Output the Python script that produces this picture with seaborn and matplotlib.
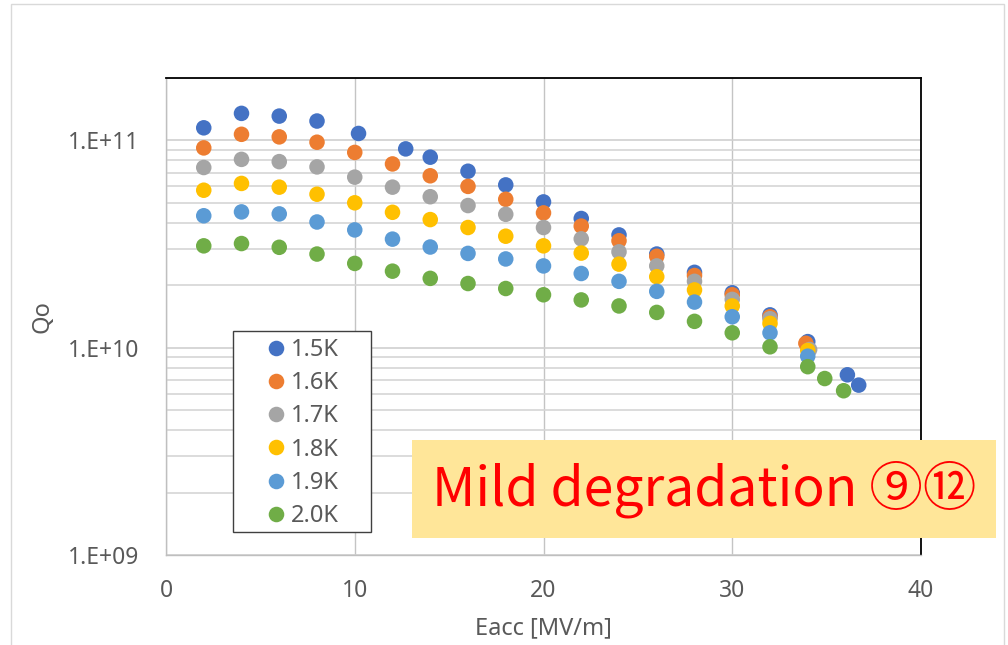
import numpy as np
import pandas as pd
import matplotlib
matplotlib.use("Agg")
import matplotlib.pyplot as plt
from matplotlib.patches import Rectangle
from matplotlib.lines import Line2D
from matplotlib.ticker import FixedLocator, LogLocator, NullFormatter
import seaborn as sns

# ---------------- data ----------------
series_labels = ["1.5K", "1.6K", "1.7K", "1.8K", "1.9K", "2.0K"]
colors = ["#4472C4", "#ED7D31", "#A5A5A5", "#FFC000", "#5B9BD5", "#70AD47"]

eacc_15 = [2, 4, 6, 8, 10.2, 12.7, 14, 16, 18, 20, 22, 24, 26, 28, 30, 32, 34, 36.1, 36.7]
q0_15 = [1.15e11, 1.35e11, 1.31e11, 1.24e11, 1.08e11, 9.1e10, 8.3e10, 7.1e10, 6.1e10, 5.05e10,
         4.2e10, 3.5e10, 2.83e10, 2.31e10, 1.84e10, 1.44e10, 1.07e10, 7.4e9, 6.6e9]

eacc_16 = [2, 4, 6, 8, 10, 12, 14, 16, 18, 20, 22, 24, 26, 28, 30, 32, 33.9]
q0_16 = [9.2e10, 1.07e11, 1.04e11, 9.8e10, 8.75e10, 7.7e10, 6.75e10, 6.0e10, 5.2e10, 4.47e10,
         3.86e10, 3.28e10, 2.76e10, 2.23e10, 1.80e10, 1.41e10, 1.05e10]

eacc_17 = [2, 4, 6, 8, 10, 12, 14, 16, 18, 20, 22, 24, 26, 28, 30, 32, 34.1]
q0_17 = [7.4e10, 8.1e10, 7.9e10, 7.45e10, 6.65e10, 5.95e10, 5.35e10, 4.85e10, 4.4e10, 3.8e10,
         3.35e10, 2.9e10, 2.48e10, 2.09e10, 1.71e10, 1.38e10, 9.8e9]

eacc_18 = [2, 4, 6, 8, 10, 12, 14, 16, 18, 20, 22, 24, 26, 28, 30, 32, 34]
q0_18 = [5.75e10, 6.2e10, 5.95e10, 5.5e10, 5.0e10, 4.5e10, 4.15e10, 3.8e10, 3.45e10, 3.1e10,
         2.86e10, 2.53e10, 2.2e10, 1.9e10, 1.59e10, 1.31e10, 9.7e9]

eacc_19 = [2, 4, 6, 8, 10, 12, 14, 16, 18, 20, 22, 24, 26, 28, 30, 32, 34]
q0_19 = [4.33e10, 4.52e10, 4.42e10, 4.04e10, 3.7e10, 3.34e10, 3.06e10, 2.85e10, 2.68e10, 2.48e10,
         2.28e10, 2.09e10, 1.87e10, 1.66e10, 1.41e10, 1.18e10, 9.1e9]

eacc_20 = [2, 4, 6, 8, 10, 12, 14, 16, 18, 20, 22, 24, 26, 28, 30, 32, 34, 34.9, 35.9]
q0_20 = [3.1e10, 3.18e10, 3.05e10, 2.83e10, 2.55e10, 2.34e10, 2.16e10, 2.04e10, 1.93e10, 1.8e10,
         1.7e10, 1.59e10, 1.48e10, 1.34e10, 1.18e10, 1.01e10, 8.1e9, 7.1e9, 6.2e9]

x_ticks = [0, 10, 20, 30, 40]
y_ticks = [1e9, 1e10, 1e11]
y_tick_labels = ["1.E+09", "1.E+10", "1.E+11"]
x_label = "Eacc [MV/m]"
y_label = "Qo"
note_text = "Mild degradation ⑨⑫"

# ---------------- build table ----------------
frames = []
for lab, xs, ys in zip(series_labels,
                       [eacc_15, eacc_16, eacc_17, eacc_18, eacc_19, eacc_20],
                       [q0_15, q0_16, q0_17, q0_18, q0_19, q0_20]):
    frames.append(pd.DataFrame({"Eacc": xs, "Q0": ys, "T": lab}))
df = pd.concat(frames, ignore_index=True)

# ---------------- style ----------------
sns.set_theme(style="white")
plt.rcParams["font.family"] = ["Noto Sans", "DejaVu Sans"]
text_color = "#595959"

W, H = 1008, 645
fig = plt.figure(figsize=(W / 100, H / 100), dpi=100)
ax = fig.add_axes([166 / W, 1 - 555 / H, (921 - 166) / W, (555 - 78) / H])

sns.scatterplot(data=df, x="Eacc", y="Q0", hue="T", palette=colors,
                hue_order=series_labels, s=125, linewidth=0, alpha=1,
                legend=False, ax=ax, zorder=3)

ax.set_yscale("log")
ax.set_xlim(0, 40)
ax.set_ylim(1e9, 2e11)

ax.xaxis.set_major_locator(FixedLocator(x_ticks))
ax.yaxis.set_major_locator(FixedLocator(y_ticks))
ax.set_yticklabels(y_tick_labels)
ax.yaxis.set_minor_locator(LogLocator(base=10, subs=np.arange(2, 10)))
ax.yaxis.set_minor_formatter(NullFormatter())

ax.grid(True, axis="x", which="major", color="#C4C4C4", linewidth=1.0)
ax.grid(True, axis="y", which="major", color="#D0D0D0", linewidth=1.2)
ax.grid(True, axis="y", which="minor", color="#D6D6D6", linewidth=1.2)
ax.set_axisbelow(True)

ax.tick_params(axis="both", which="both", length=0, labelsize=16.5, labelcolor=text_color)
ax.tick_params(axis="y", pad=19)
ax.tick_params(axis="x", pad=17)

for side in ["left", "bottom"]:
    ax.spines[side].set_color("#BFBFBF")
    ax.spines[side].set_linewidth(1.0)
for side in ["top", "right"]:
    ax.spines[side].set_color("#000000")
    ax.spines[side].set_linewidth(1.3)

ax.set_xlabel(x_label, fontsize=17, color=text_color, labelpad=10)
ax.set_ylabel(y_label, fontsize=17, color=text_color, labelpad=10)

# ---------------- legend ----------------
handles = [Line2D([], [], linestyle="none", marker="o", markersize=11.2,
                  markerfacecolor=c, markeredgewidth=0) for c in colors]
leg = fig.legend(handles, series_labels, loc="upper left",
                 bbox_to_anchor=(264 / W, 1 - 338 / H), frameon=False,
                 fontsize=17, labelcolor=text_color, handlelength=1.0,
                 handletextpad=0.12, labelspacing=0.39, borderpad=0, borderaxespad=0)
fig.patches.append(Rectangle((233 / W, 1 - 532 / H), (371 - 233) / W, (532 - 331) / H,
                             transform=fig.transFigure, facecolor="white",
                             edgecolor="#404040", linewidth=1.0, zorder=4))
leg.set_zorder(5)

# ---------------- annotation box ----------------
fig.patches.append(Rectangle((412 / W, 1 - 538 / H), (996 - 412) / W, (538 - 440) / H,
                             transform=fig.transFigure, facecolor="#FFE699",
                             edgecolor="none", zorder=6))
fig.text(704 / W, 1 - 505 / H, note_text, ha="center", va="baseline",
         fontsize=38.5, color="#FF0000",
         family=["Noto Sans CJK JP"], zorder=7)

# outer chart frame
fig.patches.append(Rectangle((10.5 / W, 1 - 660 / H), (1003.5 - 10.5) / W, (660 - 3.5) / H,
                             transform=fig.transFigure, facecolor="none",
                             edgecolor="#D9D9D9", linewidth=1.0, zorder=0))

fig.savefig("out.png", dpi=100)
